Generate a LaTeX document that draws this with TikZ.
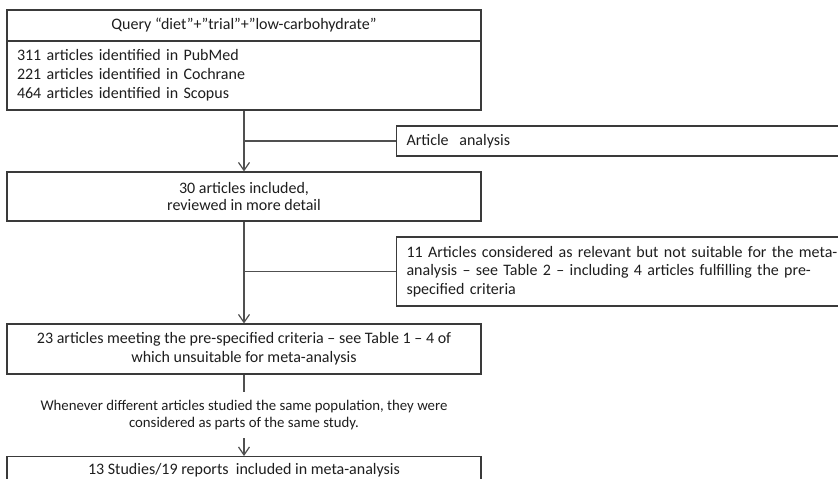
\documentclass[tikz,border=0pt]{standalone}
\usepackage{fontspec}
\setmainfont{Carlito}
\usetikzlibrary{arrows.meta}
\definecolor{linegray}{HTML}{505050}
\definecolor{boxgray}{HTML}{3A3A3A}
\definecolor{txt}{HTML}{1E1E1E}
\begin{document}
\begin{tikzpicture}[x=1pt,y=-1pt,
  box/.style={draw=boxgray, line width=1.1pt, text=txt, inner ysep=0pt,
    font=\fontsize{16}{19}\selectfont},
  leftbox/.style={box, align=left, inner xsep=10pt},
  conn/.style={draw=linegray, line width=1.2pt},
  arr/.style={conn, -{Straight Barb[length=8pt,width=11pt,line width=1.2pt]}}]
\clip (0,0) rectangle (838,479);
\fill[white] (0,0) rectangle (838,479);
% top box
\node[box, minimum width=474pt, minimum height=31pt] (query) at (244,25.5)
  {Query “diet”+”trial”+”low-carbohydrate”};
\node[leftbox, text width=454pt, minimum width=474pt, minimum height=69pt] (ident) at (244,75.5)
  {311 articles identified in PubMed\\221 articles identified in Cochrane\\464 articles identified in Scopus};
% article analysis
\node[leftbox, anchor=west, text width=460pt, minimum width=480pt, minimum height=30pt] (analysis) at (396,141)
  {Article\ \ analysis};
% 30 articles
\node[box, align=center, minimum width=474pt, minimum height=49pt,
  font=\fontsize{16}{17}\selectfont] (thirty) at (244,196.5)
  {30 articles included,\\reviewed in more detail};
% 11 articles
\node[leftbox, anchor=west, text width=460pt, minimum width=480pt, minimum height=69pt,
  font=\fontsize{16}{18.5}\selectfont] (eleven) at (396,271.5)
  {11 Articles considered as relevant but not suitable for the meta-\\analysis – see Table 2 – including 4 articles fulfilling the pre-\\specified criteria};
% 23 articles
\node[box, align=center, minimum width=474pt, minimum height=50pt] (twentythree) at (244,349)
  {23 articles meeting the pre-specified criteria – see Table 1 – 4 of\\which unsuitable for meta-analysis};
% note
\node[text=txt, align=center, inner sep=0pt,
  font=\fontsize{14.8}{17}\selectfont] (note) at (244,415)
  {Whenever different articles studied the same population, they were\\considered as parts of the same study.};
% 13 studies
\node[box, minimum width=474pt, minimum height=44pt, anchor=north] (thirteen) at (244,456) {};
\node[text=txt, inner sep=0pt, anchor=base, font=\fontsize{16}{19}\selectfont] (thirteentext) at (244,474.5)
  {13 Studies/19 reports\ \ included in meta-analysis};
% connectors
\draw[arr] (ident.south) -- (thirty.north);
\draw[conn] (ident.south |- analysis.west) -- (analysis.west);
\draw[arr] (thirty.south) -- (twentythree.north);
\draw[conn] (thirty.south |- eleven.west) -- (eleven.west);
\coordinate (stub) at (244,392);
\draw[conn] (twentythree.south) -- (stub);
\coordinate (arrstart) at (244,438);
\draw[arr] (arrstart) -- (thirteen.north);
\end{tikzpicture}
\end{document}
